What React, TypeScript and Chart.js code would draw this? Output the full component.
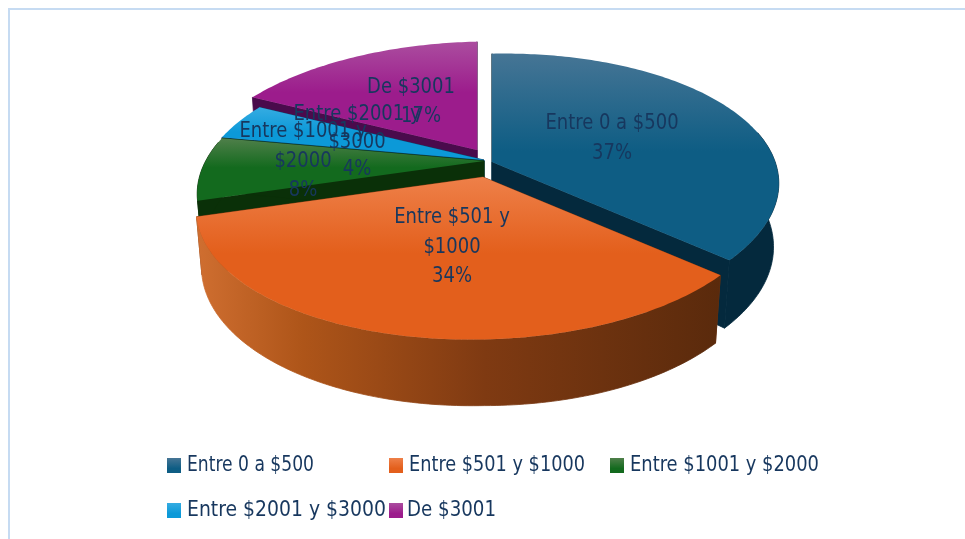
import React, { useEffect, useRef } from "react";
import { Chart, registerables } from "chart.js";

Chart.register(...registerables);

const categories = ["Entre 0 a $500", "Entre $501 y $1000", "Entre $1001 y $2000", "Entre $2001 y $3000", "De $3001"];
const shares = [37, 34, 7.6, 4.4, 17];
const baseColors = ["#0e5d84", "#e35f1c", "#136a1e", "#0c99d8", "#9c1c8c"];
const lightColors = ["#467595", "#ee8049", "#4f7f4a", "#35ace2", "#ab4d9f"];
const wallColors = ["#04293d", "#7a3813", "#0a3008", "#0a4a6e", "#4a0b4c"];
const labelLines = [
  ["Entre 0 a $500", "37%"],
  ["Entre $501 y", "$1000", "34%"],
  ["Entre $1001 y", "$2000", "8%"],
  ["Entre $2001 y", "$3000", "4%"],
  ["De $3001", "17%"],
];

const TEXT = "#17375e";
const FONT = '"DejaVu Sans Condensed", "DejaVu Sans", sans-serif';
const CX = 484, CY = 166, R = 281, RY = 130, H = 57, K = 0.2, M = 0.018, SHEAR = 0.02, RIGHT_DROP = 0.022;
// screen shift of each exploded slice
const explode = [[8, -4], [-1, 11], [0, -5], [0, -6], [-7, -16]];
const drawOrder = [4, 3, 2, 0, 1];
// label block centre relative to slice apex, line height
const labelAt = [[120, -24, 30], [-31, 70, 29.5], [-181, 0, 29.5], [-127, -18, 27.5], [-66, -48, 29]];
const labelLineDx: Record<string, number> = { "17%": 10 };
const legendCols = [167, 389, 610];
const legendRows = [458, 503];
const legendGapText = [20, 20, 20, 20, 18];
const legendTextWidths = [127, 176, 189, 199, 89];

function project(angle: number, frac: number, z: number, i: number) {
  const X = Math.cos(angle) * frac, Y = Math.sin(angle) * frac;
  const s = 1 / (1 - K * Y + M * z);
  const dx = R * X * s;
  return {
    x: CX + explode[i][0] + dx,
    y: CY + explode[i][1] + (RY * Y + H * z) * s - SHEAR * dx + z * RIGHT_DROP * Math.max(0, dx),
  };
}

function rim(a0: number, a1: number, z: number, i: number) {
  const pts = [];
  const n = Math.max(8, Math.ceil(Math.abs(a1 - a0) * 60));
  for (let k = 0; k <= n; k++) pts.push(project(a0 + ((a1 - a0) * k) / n, 1, z, i));
  return pts;
}

function poly(ctx: CanvasRenderingContext2D, pts: { x: number; y: number }[], fill: any, stroke = false) {
  ctx.beginPath();
  pts.forEach((p, k) => (k ? ctx.lineTo(p.x, p.y) : ctx.moveTo(p.x, p.y)));
  ctx.closePath();
  ctx.fillStyle = fill;
  ctx.fill();
  if (stroke) {
    ctx.strokeStyle = fill;
    ctx.lineWidth = 0.8;
    ctx.stroke();
  }
}

const pie3d = {
  id: "pie3d",
  beforeDatasetsDraw(chart: any) {
    const ctx: CanvasRenderingContext2D = chart.ctx;
    const arcs = chart.getDatasetMeta(0).data;
    ctx.save();
    ctx.translate(-10, -10);
    for (const i of drawOrder) {
      const { startAngle: a0, endAngle: a1 } = arcs[i];
      const apexT = project(0, 0, 0, i), apexB = project(0, 0, 1, i);
      const top = rim(a0, a1, 0, i), bot = rim(a0, a1, 1, i);
      // cut faces
      poly(ctx, [apexT, top[0], bot[0], apexB], wallColors[i], true);
      poly(ctx, [apexT, top[top.length - 1], bot[bot.length - 1], apexB], wallColors[i], true);
      // outer wall
      let wall: any = wallColors[i];
      if (i === 1) {
        wall = ctx.createLinearGradient(198, 0, 720, 0);
        wall.addColorStop(0, "#cf6e30");
        wall.addColorStop(0.2, "#ae5519");
        wall.addColorStop(0.55, "#7f3a12");
        wall.addColorStop(1, "#5a2a0c");
      }
      const n = top.length - 1;
      const keep = top.map((p, k) => k).filter((k) => Math.sin(a0 + ((a1 - a0) * k) / n) >= -0.2);
      if (keep.length > 1) {
        poly(ctx, [...keep.map((k) => top[k]), ...keep.slice().reverse().map((k) => bot[k])], wall, true);
      }
      // top face
      const pts = [apexT, ...top];
      const ys = pts.map((p) => p.y);
      const y0 = Math.min(...ys), y1 = Math.max(...ys);
      const g = ctx.createLinearGradient(0, y0, 0, y0 + (y1 - y0) * 0.47);
      g.addColorStop(0, lightColors[i]);
      g.addColorStop(1, baseColors[i]);
      poly(ctx, pts, g);
    }
    ctx.restore();
    return false;
  },
  afterDraw(chart: any) {
    const ctx: CanvasRenderingContext2D = chart.ctx;
    ctx.save();
    ctx.translate(-10, -10);
    ctx.fillStyle = TEXT;
    ctx.textBaseline = "middle";
    ctx.textAlign = "center";
    ctx.font = "21.5px " + FONT;
    for (const i of drawOrder) {
      const lines = labelLines[i];
      const apex = project(0, 0, 0, i);
      const [dx, dy, lh] = labelAt[i];
      lines.forEach((t, k) => {
        ctx.fillText(
          t,
          apex.x + dx + (labelLineDx[t] || 0),
          apex.y + dy + (k - (lines.length - 1) / 2) * lh,
          ctx.measureText(t).width * 0.93,
        );
      });
    }
    // legend
    ctx.textAlign = "left";
    categories.forEach((name, i) => {
      const x = legendCols[i < 3 ? i : i - 3];
      const y = legendRows[i < 3 ? 0 : 1];
      const g = ctx.createLinearGradient(0, y, 0, y + 15);
      g.addColorStop(0, lightColors[i]);
      g.addColorStop(0.7, baseColors[i]);
      ctx.fillStyle = g;
      ctx.fillRect(x, y, 14, 15);
      ctx.fillStyle = TEXT;
      ctx.fillText(name, x + legendGapText[i], y + 7, legendTextWidths[i]);
    });
    ctx.restore();
  },
};

export default function App() {
  const ref = useRef<HTMLCanvasElement>(null);
  useEffect(() => {
    const chart = new Chart(ref.current!, {
      type: "pie",
      data: {
        labels: categories,
        datasets: [{ data: shares, backgroundColor: baseColors, borderWidth: 0 }],
      },
      options: {
        animation: false,
        responsive: false,
        plugins: { legend: { display: false }, tooltip: { enabled: false } },
      },
      plugins: [pie3d],
    } as any);
    return () => chart.destroy();
  }, []);
  return (
    <div style={{ position: "absolute", left: 8, top: 8, borderLeft: "2px solid #c6dbf2", borderTop: "2px solid #c6dbf2", width: 955, height: 529 }}>
      <canvas ref={ref} width={955} height={529} />
    </div>
  );
}
